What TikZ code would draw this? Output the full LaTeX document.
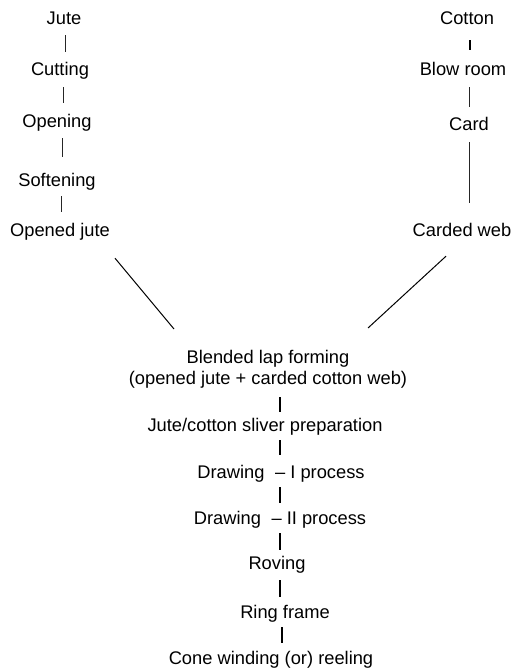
\documentclass[tikz,border=0pt]{standalone}
\usepackage{fontspec}
\setmainfont{Liberation Sans}
\usetikzlibrary{calc}
\begin{document}
\begin{tikzpicture}[x=1pt,y=-1pt,
  lbl/.style={inner sep=0pt,anchor=base,text height=13pt,text depth=4pt,font=\fontsize{18.3}{21}\selectfont},
  link/.style={line width=0.8pt,black!85},
  dlink/.style={line width=1pt,black},
  blink/.style={line width=1.15pt,black}]
\useasboundingbox (0,0) rectangle (516,668);
% left column
\node[lbl] (jute) at (64,25) {Jute};
\node[lbl] (cut) at (60,76) {Cutting};
\node[lbl] (open) at (57,128) {Opening};
\node[lbl] (soft) at (57,186) {Softening};
\node[lbl] (opened) at (60,236) {Opened jute};
% right column
\node[lbl] (cotton) at (467,25) {Cotton};
\node[lbl] (blow) at (463,76) {Blow room};
\node[lbl] (card) at (469,131) {Card};
\node[lbl] (carded) at (462,236) {Carded web};
% centre column
\node[inner sep=0pt,anchor=north,align=center,font=\fontsize{18.3}{21}\selectfont] (blend) at (268,350) {Blended lap forming\\(opened jute + carded cotton web)};
\node[lbl] (jsp) at (265,431) {Jute/cotton sliver preparation};
\node[lbl] (d1) at (281,478) {Drawing\hspace{0.3em} – I process};
\node[lbl] (d2) at (280,524) {Drawing\hspace{0.3em} – II process};
\node[lbl] (rov) at (277,569) {Roving};
\node[lbl] (ring) at (285,618) {Ring frame};
\node[lbl] (cone) at (271,664) {Cone winding (or) reeling};
% connectors left
\draw[link] ($(jute.south)+(1,6)$) -- ($(cut.north)+(5,-11)$);
\draw[link] ($(cut.south)+(3,7)$) -- ($(open.north)+(6,-12)$);
\draw[link] ($(open.south)+(5,6)$) -- ($(soft.north)+(5,-16)$);
\draw[link] ($(soft.south)+(4,6)$) -- ($(opened.north)+(1,-11)$);
% connectors right
\draw[blink] ($(cotton.south)+(3,11)$) -- ($(blow.north)+(7,-13)$);
\draw[link] ($(blow.south)+(6,7)$) -- ($(card.north)+(0,-11)$);
\draw[link] ($(card.south)+(0,7)$) -- ($(carded.north)+(7,-20)$);
% diagonals
\draw[dlink] ($(opened.south)+(55,18)$) -- ($(blend.north)+(-94,-21)$);
\draw[dlink] ($(carded.south)+(-16,16)$) -- ($(blend.north)+(100,-22)$);
% connectors centre
\draw[blink] ($(blend.north)+(12,47)$) -- ($(jsp.north)+(15,-6)$);
\draw[blink] ($(jsp.south)+(15,5)$) -- ($(d1.north)+(-1,-10)$);
\draw[blink] ($(d1.south)+(-1,5)$) -- ($(d2.north)+(0,-8)$);
\draw[blink] ($(d2.south)+(0,5)$) -- ($(rov.north)+(3,-6)$);
\draw[blink] ($(rov.south)+(3,7)$) -- ($(ring.north)+(-5,-8)$);
\draw[blink] ($(ring.south)+(-3,5)$) -- ($(cone.north)+(11,-8)$);
\end{tikzpicture}
\end{document}
